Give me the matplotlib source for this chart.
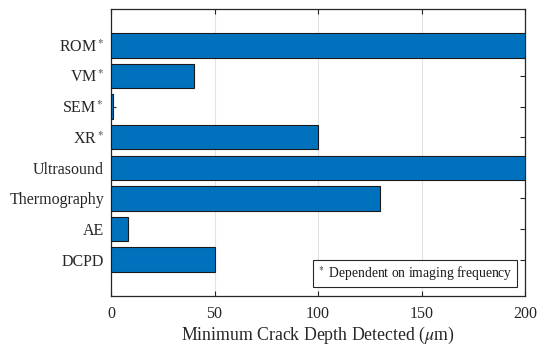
import matplotlib.pyplot as plt

plt.rcParams['font.family'] = ['Liberation Serif', 'DejaVu Serif']
plt.rcParams['mathtext.fontset'] = 'stix'

# Detection methods, bottom to top
methods = ['DCPD', 'AE', 'Thermography', 'Ultrasound',
           'XR$^*$', 'SEM$^*$', 'VM$^*$', 'ROM$^*$']
# Minimum crack depth detected (um)
depths = [50, 8, 130, 200, 100, 1, 40, 200]

positions = list(range(1, len(methods) + 1))

fig = plt.figure(figsize=(5.37, 3.47), dpi=100)
ax = fig.add_axes([0.2067, 0.147, 0.771, 0.827])

ax.barh(positions, depths, height=0.8, color='#0072BD',
        edgecolor='#1a1a1a', linewidth=0.8, zorder=3)

ax.set_xlim(0, 200)
ax.set_ylim(-0.19, 9.19)
ax.set_xticks([0, 50, 100, 150, 200])
ax.set_yticks(positions)
ax.set_yticklabels(methods)

ax.grid(axis='x', color='#e3e3e3', linewidth=0.8, zorder=0)
ax.tick_params(direction='in', top=True, right=True, length=3.5,
               width=0.8, color='#262626', labelsize=11.5,
               labelcolor='#262626')
ax.tick_params(axis='x', pad=7)
ax.tick_params(axis='y', pad=5)
for s in ax.spines.values():
    s.set_color('#262626')
    s.set_linewidth(0.9)

ax.set_xlabel(r'Minimum Crack Depth Detected ($\mu$m)', fontsize=12.8,
              color='#262626', labelpad=2)

# Note box for the starred methods
ax.text(0.97, 0.078, r'$^*$ Dependent on imaging frequency',
        transform=ax.transAxes, ha='right', va='center', fontsize=9.8,
        color='#1a1a1a', zorder=5,
        bbox=dict(boxstyle='square,pad=0.3', facecolor='white',
                  edgecolor='#262626', linewidth=0.8))

fig.savefig('out.png', dpi=100)
